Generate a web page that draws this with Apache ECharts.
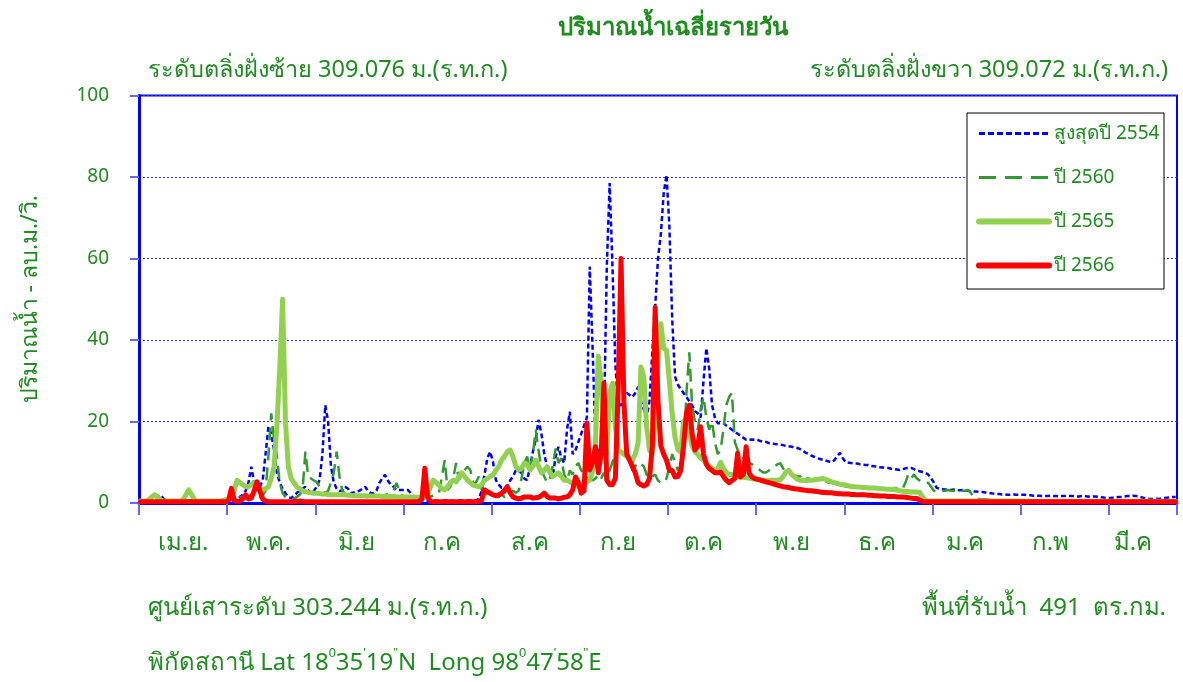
<!DOCTYPE html>
<html><head><meta charset="utf-8">
<script src="https://cdn.jsdelivr.net/npm/echarts@6/dist/echarts.min.js"></script>
<style>html,body{margin:0;padding:0;background:#fff}#c{width:1183px;height:682px}</style>
</head><body><div id="c"></div><script>
// ---- labels ----
const months = ['เม.ย.','พ.ค.','มิ.ย','ก.ค','ส.ค','ก.ย','ต.ค','พ.ย','ธ.ค','ม.ค','ก.พ','มี.ค'];
const monthMidDay = [15,45,76,106,137,168,198,229,259,290,320,349];
const tickEveryDays = 31;
const yTicks = [0,20,40,60,80,100];
const seriesNames = ['สูงสุดปี 2554','ปี 2560','ปี 2565','ปี 2566'];

// ---- daily discharge (m3/s), 1 Apr .. 31 Mar ----
const max2554 = [
0.3,0.3,0.4,0.4,0.5,0.8,1.5,2,1.2,0.6,0.5,0.4,0.4,0.5,0.6,0.5,0.4,0.4,0.4,0.5,0.4,0.4,0.3,0.3,0.3,0.4,0.4,0.4,0.5,0.5,0.5,
0.5,0.6,0.8,1,1.5,2,3,5,8.9,5,3,4,5.6,12,18.7,17,13,7.4,5,3.5,2.4,1.5,1.2,1.8,2.5,3,3.5,4,3,2.4,3,
4,5.7,12,24,20,9,5,3.5,3,3,4,3.5,2.4,2.6,2.8,3,3.5,4,3,2.4,2.4,3,4.9,6,6.9,5.5,4.5,4,3.2,3.2,3.2,
3.2,3.2,2.5,1.5,1,0.7,0.6,0.6,0.5,0.5,0.6,0.6,0.5,0.5,0.6,0.7,0.6,0.5,0.5,0.6,0.6,0.5,0.6,0.7,0.6,0.6,1,3,7,11,12.6,
10,5.6,4.5,3.7,3.8,4,5.5,6.5,8,7.8,7.4,6,5.6,9,12.6,15.5,20.4,17,12,8.9,7,6.5,11.4,13.8,11,9.8,18,22.4,12,13,15,
17,19,21,58,38,16,12,10.5,20,58,78.5,58,34,24,24,26,27,26.5,26,27,28.5,25,23,21,25,37,48,60,66,76,80.5,
68,45,31,29,28,27,26,25,24,22.5,22,21,30,38,33,24,21,19.6,19.6,19.6,19,18.5,18,17.5,17,16.5,16,15.5,15.5,15.6,15.5,
15.5,15.2,15,15,14.7,14.6,14.5,14.4,14.3,14.2,14,13.9,13.8,13.6,13.5,13.2,12.8,12.3,12,11.6,11.3,11,10.8,10.6,10.4,10.2,10,10.5,11.5,12.3,11,
10,9.9,9.8,9.7,9.7,9.5,9.4,9.3,9.3,9.1,9,8.9,8.8,8.7,8.6,8.6,8.4,8.3,8.2,8.1,8.3,8.5,8.6,8.6,8.3,8,7.8,7.6,7.4,7,6.1,
5,3.7,3.5,3.4,3.3,3.2,3.2,3.3,3.2,3.1,3.2,3.2,3,2.9,2.8,2.8,2.7,2.7,2.6,2.5,2.4,2.3,2.2,2.2,2.1,2.1,2,2,2.1,2,2,
2,2,1.9,1.9,1.8,1.8,1.8,1.7,1.7,1.7,1.8,1.7,1.7,1.6,1.7,1.7,1.8,1.7,1.7,1.6,1.6,1.7,1.7,1.6,1.5,1.6,1.6,1.5,1.4,1.3,1.2,
1.2,1.3,1.4,1.5,1.5,1.6,1.7,1.7,1.8,1.7,1.6,1.4,1.2,1.1,1,1,1.1,1,1.1,1.2,1.3,1.4,1.5,1.5
];
const year2560 = [
0.3,0.3,0.4,0.4,0.5,0.6,0.8,0.6,0.5,0.4,0.4,0.4,0.4,0.5,0.5,0.5,0.6,0.7,0.6,0.5,0.4,0.4,0.4,0.4,0.5,0.5,0.5,0.6,0.7,0.8,0.9,
1,1,1.2,1.4,1.5,1.5,1.6,1.8,2,2,1.8,1.6,1.8,3,11.4,22,15.5,11.4,4.9,2.4,1.5,1.2,1,1,1.5,2,3,12.6,6.5,6,5.5,
5.2,4,3,2.5,3,5,7.4,12.6,6.5,3,2.2,2,1.8,1.8,1.7,1.6,1.6,1.5,1.5,1.5,1.6,1.6,1.7,1.8,2,2.2,2.5,3,4.9,3.2,1.8,
1.6,1.5,1.5,1.4,1.4,1.4,1.5,1.5,1.6,1.6,1.8,2,2.5,6.5,10.5,3.2,4,6,9.8,5.6,7,8.1,8.9,8.1,4.9,5,6.5,3.2,2.5,2,1.8,
2,1.5,1.5,2,1.5,2,2.4,3,2.5,3,6,9.8,11.4,8,12,18,13,8.1,6.5,5,6,9,13.4,9.8,11,7,5.5,8,7,9,9.8,
8,7,6.5,6,5.5,6,7,6,7.4,6,8,10,12,25,50,30,12,10.5,8,9,10,9.5,9,7,6,6.5,7,5.5,5,5,6,
9,12,10,8,9,12,27,37,24,20,18,23,26,21,18,20,15,12,13,18,24,26,27,15,13,12,11,10.5,10,9.5,9,
8.5,8,7.5,7.5,8,8.5,9,9.5,9.8,8.5,7.5,7.5,7,6.8,6.5,6.5,7,6,6,5.8,5.8,5.6,5.5,5.5,5.3,5,5,4.8,4.5,4.3,4.2,
4,4,3.9,3.9,3.8,4,3.9,3.8,3.7,3.7,3.7,3.7,3.6,3.6,3.6,3.6,3.6,3.7,3.7,3.5,3.5,5,7,6,7,6,5.5,5,5,5,4,
3,2.8,3,3,3,3.2,3,3,3,3.2,3,3,3.2,2.5,1.5,1,1,0.9,0.9,0.8,0.8,0.8,0.7,0.7,0.7,0.6,0.6,0.6,0.6,0.5,0.5,
0.5,0.5,0.5,0.5,0.5,0.5,0.5,0.5,0.5,0.5,0.5,0.5,0.5,0.5,0.5,0.4,0.4,0.4,0.4,0.4,0.4,0.4,0.4,0.4,0.4,0.4,0.4,0.4,0.4,0.4,0.4,
0.4,0.4,0.4,0.4,0.4,0.4,0.4,0.4,0.4,0.4,0.4,0.4,0.4,0.4,0.4,0.4,0.4,0.4,0.4,0.4,0.4,0.4,0.4,0.4
];
const year2565 = [
0.5,0.5,0.5,0.8,1.5,2,1.5,0.8,0.5,0.5,0.5,0.5,0.5,0.5,0.5,0.8,2,3.2,2,0.8,0.5,0.5,0.5,0.5,0.5,0.5,0.5,0.5,0.5,0.6,0.8,
1,1.5,3,5.6,5,4.5,4,4,4.5,5,4.5,3.5,3.2,3.5,4,6,9,19,33,50,20,9,6,5,4,3.5,3,2.8,2.6,2.5,2.4,
2.4,2.3,2.2,2.2,2.1,2,2,2,2,2,2,1.9,1.9,1.8,1.8,1.8,1.8,1.8,1.7,1.7,1.7,1.7,1.7,1.6,1.6,1.6,1.6,1.6,1.5,1.5,1.5,
1.5,1.5,1.5,1.4,1.4,1.4,1.5,1.5,2,4,5.6,5,4.4,3.5,3.2,4,5,5.6,5.2,6.5,7.4,6.5,5.6,5,4.4,4.2,4,4.5,5.6,6,6.5,
6.9,8,9,10.5,11.4,12.6,13,11.4,9,8.1,8.5,9.8,9.5,8.1,9,10.5,9,7.4,8,8.9,7.5,6.5,7,7.4,6.5,5.6,5.6,5.2,4.8,4.4,4,
4.2,4.9,5.2,5.6,8,14.7,36,30,18.7,12.2,27,29.4,18.7,13,12.5,12,11.5,11,10.5,12,14.7,33.4,31,18.7,13,12,20,35,44,38,37.5,
30,22,16,13,12.5,20,21,18,14,12.5,12,11,10.5,9.7,9,8.5,8,8.3,10,8.5,7.5,7,7,6.8,6.5,6.4,6.3,6.2,6.1,6,5.9,
5.8,5.7,5.6,5.6,5.6,5.6,5.6,5.6,5.7,6.5,7.6,8,7,6.4,5.8,5.6,5.5,5.5,5.6,5.6,5.7,5.8,5.9,6,5.8,5.5,5.2,5,4.8,4.6,4.5,
4.4,4.2,4,4,3.9,3.9,3.8,3.8,3.7,3.7,3.7,3.6,3.5,3.5,3.4,3.4,3.3,3.3,3.2,3,2.9,2.8,2.8,2.7,2.7,2.7,2.6,1.5,0.6,0.5,0.5,
0.5,0.5,0.5,0.5,0.5,0.5,0.5,0.5,0.5,0.5,0.5,0.5,0.5,0.5,0.5,0.5,0.5,0.5,0.5,0.5,0.5,0.5,0.5,0.5,0.5,0.5,0.5,0.5,0.5,0.5,0.5,
0.4,0.4,0.4,0.4,0.4,0.4,0.4,0.4,0.4,0.4,0.4,0.4,0.4,0.4,0.4,0.4,0.4,0.4,0.4,0.4,0.4,0.4,0.4,0.4,0.4,0.4,0.4,0.4,0.4,0.4,0.4,
0.4,0.4,0.4,0.4,0.4,0.4,0.4,0.4,0.4,0.4,0.4,0.4,0.4,0.4,0.4,0.4,0.4,0.4,0.4,0.4,0.4,0.4,0.4,0.4
];
const year2566 = [
0.3,0.3,0.3,0.3,0.3,0.3,0.3,0.3,0.3,0.3,0.3,0.3,0.3,0.3,0.3,0.3,0.3,0.3,0.3,0.3,0.3,0.3,0.3,0.3,0.3,0.3,0.3,0.3,0.3,0.3,0.3,
0.6,3.6,0.6,0.4,0.5,1,2,1,1.2,3,5.2,3,1,0.5,0.3,0.3,0.3,0.3,0.3,0.3,0.3,0.3,0.3,0.3,0.4,0.5,0.4,0.3,0.3,0.3,0.3,
0.3,0.3,0.3,0.3,0.3,0.3,0.3,0.3,0.3,0.3,0.3,0.3,0.3,0.3,0.3,0.3,0.3,0.3,0.3,0.3,0.3,0.3,0.3,0.3,0.3,0.3,0.3,0.3,0.3,0.3,0.3,
0.3,0.3,0.3,0.3,0.3,0.4,1,8.5,1.5,0.4,0.3,0.3,0.3,0.3,0.3,0.3,0.3,0.3,0.3,0.3,0.3,0.3,0.3,0.3,0.3,0.3,0.4,0.7,3.2,2.8,2.4,
2,1.8,2,2.4,3,4,2.5,1.5,1.2,1,1.2,1.5,1.5,1.5,1.2,1.3,1.4,1.8,2.4,1.6,1.2,1.2,1.2,1,1.2,1.4,1.5,2,3.2,6.4,5,
2.4,3,19.6,8.1,10,13.8,7.4,12,29.4,5.6,4.5,4.5,6,28,60,25,12,10.5,9,7.4,5,4.5,4.2,4.5,6,14,48,25,14,12,10.5,
8,8,6.4,6.5,8,14,22,24,17,13,14,18.7,12,9.5,8.5,8,7.4,7.4,7.6,6.5,5.6,5,5.5,6,12.2,6.4,7,13.8,7.4,6.4,6,
5.8,5.6,5.4,5.2,5,4.8,4.6,4.4,4.2,4,3.9,3.8,3.6,3.5,3.4,3.3,3.2,3.1,3,3,2.9,2.8,2.7,2.6,2.6,2.5,2.5,2.4,2.3,2.3,2.2,
2.2,2.2,2.1,2.1,2,2,2,2,1.9,1.9,1.8,1.8,1.7,1.7,1.7,1.6,1.6,1.6,1.5,1.5,1.5,1.4,1.3,1.2,1.1,1.1,0.7,0.4,0.3,0.3,0.3,
0.3,0.3,0.3,0.3,0.3,0.3,0.3,0.3,0.3,0.3,0.3,0.3,0.3,0.3,0.3,0.3,0.3,0.3,0.3,0.3,0.3,0.3,0.3,0.3,0.3,0.3,0.3,0.3,0.3,0.3,0.3,
0.3,0.3,0.3,0.3,0.3,0.3,0.3,0.3,0.3,0.3,0.3,0.3,0.3,0.3,0.3,0.3,0.3,0.3,0.3,0.3,0.3,0.3,0.3,0.3,0.3,0.3,0.3,0.3,0.3,0.3,0.3,
0.3,0.3,0.3,0.3,0.3,0.3,0.3,0.3,0.3,0.3,0.3,0.3,0.3,0.3,0.3,0.3,0.3,0.3,0.3,0.3,0.3,0.3,0.3,0.3
];

const days = max2554.map((_, i) => String(i + 1));
const GREEN = '#1e8c1e';
const FONT = "'Noto Sans', 'DejaVu Sans', sans-serif";
const STYLES = [
  {color: '#0000ff', width: 2.5, type: [5, 3]},
  {color: '#339933', width: 2.5, type: [13, 7]},
  {color: '#92d050', width: 5, type: 'solid', cap: 'round', join: 'round'},
  {color: '#ff0000', width: 5, type: 'solid', cap: 'round', join: 'round'}
];
const LEGEND_STYLES = [
  {color: '#0000ff', width: 3, type: [6, 3]},
  {color: '#339933', width: 3, type: [17, 9]},
  {color: '#92d050', width: 6, type: 'solid', cap: 'round'},
  {color: '#ff0000', width: 6, type: 'solid', cap: 'round'}
];
const seriesData = [max2554, year2560, year2565, year2566];

const chart = echarts.init(document.getElementById('c'), null, {renderer: 'canvas'});
chart.setOption({
  animation: false,
  backgroundColor: '#ffffff',
  textStyle: {fontFamily: FONT},
  grid: {left: 139, right: 6, top: 95.5, bottom: 179, show: true, borderColor: '#0000ff', borderWidth: 2, containLabel: false},
  legend: {
    z: 200, padding: 0,
    orient: 'vertical', left: 976, top: 124, itemWidth: 70, itemHeight: 14, itemGap: 25,
    itemStyle: {opacity: 0},
    textStyle: {color: GREEN, fontSize: 19, lineHeight: 14, fontFamily: FONT},
    data: seriesNames.map((n, i) => ({name: n, lineStyle: LEGEND_STYLES[i]}))
  },
  xAxis: {
    type: 'category', data: days, boundaryGap: true,
    axisLine: {lineStyle: {color: '#0000ff', width: 3}},
    axisTick: {show: true, interval: (i) => i % tickEveryDays === 0, length: 12, lineStyle: {color: '#6666ff', width: 2}},
    axisLabel: {
      interval: (i) => monthMidDay.indexOf(i) >= 0,
      formatter: (v, i) => months[monthMidDay.indexOf(i)],
      color: GREEN, fontSize: 24, margin: 28, fontFamily: FONT
    },
    splitLine: {show: false}
  },
  yAxis: {
    type: 'value', min: yTicks[0], max: yTicks[yTicks.length - 1], interval: 20,
    name: 'ปริมาณน้ำ - ลบ.ม./วิ.', nameLocation: 'middle', nameGap: 97, nameRotate: 90,
    nameTextStyle: {color: GREEN, fontSize: 23, fontFamily: FONT},
    axisLine: {show: true, lineStyle: {color: '#0000ff', width: 3}},
    axisTick: {show: true, length: 9, lineStyle: {color: '#6666ff', width: 2}},
    axisLabel: {color: GREEN, fontSize: 19, margin: 30, fontFamily: FONT},
    splitLine: {show: true, lineStyle: {color: '#3333ff', width: 1, type: [2, 2]}}
  },
  series: seriesNames.map((n, i) => ({
    type: 'line', name: n, data: seriesData[i], symbol: 'none', smooth: false, z: 2 + i,
    lineStyle: STYLES[i], itemStyle: {color: STYLES[i].color}
  })),
  graphic: [
    {type: 'rect', x: 967, y: 113, z: 90, shape: {width: 197, height: 176},
      style: {fill: '#ffffff', stroke: '#000000', lineWidth: 1}},
    {type: 'text', x: 673, y: 28, z: 100,
      style: {text: 'ปริมาณน้ำเฉลี่ยรายวัน', fill: GREEN, font: "bold 24px " + FONT, align: 'center', verticalAlign: 'middle'}},
    {type: 'text', x: 148, y: 70, style: {text: 'ระดับตลิ่งฝั่งซ้าย 309.076 ม.(ร.ท.ก.)', fill: GREEN, font: "23.5px " + FONT, align: 'left', verticalAlign: 'middle'}},
    {type: 'text', x: 1168, y: 70, style: {text: 'ระดับตลิ่งฝั่งขวา 309.072 ม.(ร.ท.ก.)', fill: GREEN, font: "23.5px " + FONT, align: 'right', verticalAlign: 'middle'}},
    {type: 'text', x: 148, y: 608, style: {text: 'ศูนย์เสาระดับ 303.244 ม.(ร.ท.ก.)', fill: GREEN, font: "24px " + FONT, align: 'left', verticalAlign: 'middle'}},
    {type: 'text', x: 1166, y: 608, style: {text: 'พื้นที่รับน้ำ  491  ตร.กม.', fill: GREEN, font: "24px " + FONT, align: 'right', verticalAlign: 'middle'}},
    {type: 'text', x: 148, y: 663, style: {
      text: 'พิกัดสถานี Lat 18{s|0}35{s|\'}19{s|"}N  Long 98{s|0}47{s|\'}58{s|"}E',
      fill: GREEN, font: "24px " + FONT, lineHeight: 32, align: 'left', verticalAlign: 'middle',
      rich: {s: {fontSize: 13, verticalAlign: 'top', lineHeight: 32, fill: GREEN}}
    }}
  ]
});
</script></body></html>
